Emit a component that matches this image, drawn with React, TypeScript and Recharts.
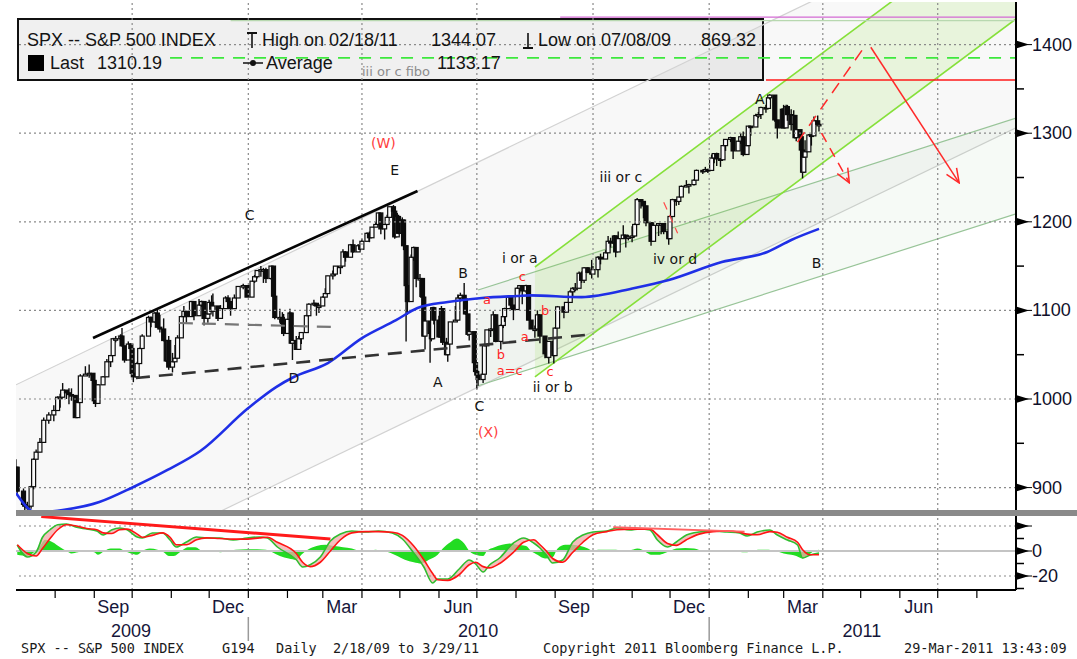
import React from 'react';
import { ComposedChart, Bar, Line, Area, Scatter, XAxis, YAxis, ReferenceLine } from 'recharts';

const SANS = '"Liberation Sans", Arial, sans-serif';
const LABEL_FONT = '"DejaVu Sans", Verdana, sans-serif';
const MONO = '"DejaVu Sans Mono", monospace';

const toDay = (s: string) => Date.UTC(+s.slice(0, 4), +s.slice(5, 7) - 1, +s.slice(8, 10)) / 86400000;
const START = toDay('2009-07-01');
const END = toDay('2011-09-01');

// ---- daily bars (sampled), one row per month ----
const barMonths = [
  '2009-07', '2009-08', '2009-09', '2009-10', '2009-11', '2009-12',
  '2010-01', '2010-02', '2010-03', '2010-04', '2010-05', '2010-06',
  '2010-07', '2010-08', '2010-09', '2010-10', '2010-11', '2010-12',
  '2011-01', '2011-02', '2011-03',
];
const barDays = [
  [1, 2, 7, 8, 10, 13, 15, 17, 20, 23, 27, 31],
  [3, 5, 7, 10, 12, 14, 17, 19, 21, 25, 28, 31],
  [1, 2, 4, 8, 11, 14, 16, 18, 22, 23, 25, 28, 30],
  [1, 2, 5, 7, 9, 14, 16, 19, 21, 23, 26, 28, 29, 30],
  [2, 4, 6, 9, 11, 13, 17, 19, 23, 25, 27, 30],
  [1, 3, 4, 8, 10, 14, 16, 18, 21, 24, 28, 31],
  [4, 6, 8, 11, 13, 15, 19, 21, 22, 26, 28, 29],
  [1, 3, 4, 5, 8, 10, 12, 16, 18, 22, 24, 26],
  [1, 3, 5, 9, 11, 15, 17, 19, 23, 25, 29, 31],
  [1, 5, 7, 9, 12, 14, 16, 19, 21, 23, 26, 27, 29, 30],
  [3, 4, 6, 7, 10, 12, 14, 17, 19, 20, 21, 25, 26, 27, 28],
  [1, 3, 4, 7, 8, 10, 14, 16, 18, 21, 22, 24, 25, 29, 30],
  [1, 2, 6, 7, 9, 12, 14, 16, 20, 22, 23, 26, 28, 30],
  [2, 4, 6, 9, 11, 13, 16, 18, 20, 24, 26, 27, 31],
  [1, 3, 8, 10, 13, 15, 17, 20, 22, 24, 27, 30],
  [1, 5, 7, 11, 13, 15, 18, 19, 21, 25, 27, 29],
  [1, 3, 5, 8, 10, 12, 16, 18, 22, 24, 26, 30],
  [1, 3, 6, 8, 10, 14, 16, 20, 22, 27, 29, 31],
  [3, 5, 7, 10, 12, 14, 18, 20, 24, 26, 28, 31],
  [1, 3, 7, 9, 11, 15, 17, 18, 22, 24, 28],
  [1, 3, 4, 7, 9, 10, 11, 14, 15, 16, 17, 18, 21, 23, 25, 28, 29],
];
const firstOpen = 920;
const closes = [
  [923, 896, 881, 879, 879, 901, 932, 940, 951, 976, 982, 987],
  [1002, 1002, 1010, 1007, 1005, 1004, 979, 996, 1026, 1028, 1029, 1021],
  [998, 995, 1016, 1025, 1042, 1049, 1068, 1068, 1071, 1060, 1044, 1062, 1057],
  [1029, 1025, 1040, 1057, 1071, 1092, 1087, 1097, 1081, 1079, 1066, 1043, 1066, 1036],
  [1042, 1046, 1069, 1093, 1099, 1093, 1110, 1094, 1106, 1110, 1091, 1096],
  [1109, 1099, 1105, 1091, 1102, 1114, 1110, 1102, 1114, 1127, 1128, 1115],
  [1133, 1138, 1145, 1146, 1146, 1136, 1150, 1116, 1092, 1092, 1085, 1074],
  [1090, 1097, 1063, 1066, 1056, 1068, 1075, 1094, 1107, 1108, 1105, 1105],
  [1115, 1119, 1139, 1141, 1150, 1150, 1166, 1160, 1174, 1166, 1173, 1169],
  [1178, 1187, 1182, 1194, 1197, 1210, 1192, 1197, 1205, 1217, 1212, 1183, 1206, 1187],
  [1202, 1173, 1128, 1110, 1160, 1171, 1136, 1136, 1115, 1071, 1088, 1074, 1068, 1103, 1089],
  [1070, 1102, 1064, 1050, 1062, 1087, 1089, 1114, 1117, 1113, 1096, 1073, 1076, 1041, 1031],
  [1027, 1022, 1028, 1060, 1078, 1079, 1095, 1065, 1083, 1093, 1102, 1115, 1106, 1101],
  [1125, 1128, 1122, 1128, 1089, 1079, 1079, 1095, 1071, 1051, 1047, 1065, 1049],
  [1080, 1104, 1098, 1109, 1121, 1125, 1125, 1142, 1134, 1148, 1143, 1141],
  [1146, 1160, 1158, 1165, 1178, 1176, 1184, 1166, 1181, 1185, 1182, 1183],
  [1184, 1197, 1225, 1223, 1218, 1199, 1178, 1196, 1198, 1198, 1189, 1181],
  [1206, 1225, 1223, 1228, 1240, 1241, 1242, 1247, 1258, 1257, 1259, 1258],
  [1272, 1277, 1271, 1270, 1286, 1293, 1295, 1280, 1291, 1296, 1276, 1286],
  [1308, 1307, 1320, 1321, 1329, 1328, 1340, 1343, 1315, 1306, 1327],
  [1306, 1330, 1321, 1310, 1320, 1295, 1304, 1296, 1281, 1256, 1273, 1279, 1298, 1297, 1314, 1310, 1310],
];
const highs = [
  [932, 923, 899, 887, 884, 902, 933, 943, 956, 979, 985, 993],
  [1003, 1006, 1018, 1010, 1012, 1012, 999, 999, 1028, 1037, 1039, 1028],
  [1028, 1000, 1017, 1026, 1045, 1049, 1068, 1071, 1073, 1080, 1052, 1065, 1063],
  [1057, 1030, 1042, 1058, 1073, 1094, 1093, 1098, 1101, 1095, 1091, 1066, 1066, 1071],
  [1052, 1061, 1072, 1094, 1105, 1097, 1110, 1106, 1113, 1111, 1097, 1097],
  [1112, 1117, 1119, 1103, 1106, 1116, 1117, 1103, 1118, 1127, 1130, 1127],
  [1133, 1140, 1145, 1150, 1148, 1148, 1150, 1139, 1115, 1102, 1098, 1096],
  [1090, 1102, 1097, 1067, 1071, 1071, 1075, 1095, 1108, 1112, 1106, 1107],
  [1116, 1125, 1139, 1145, 1150, 1150, 1169, 1167, 1175, 1180, 1175, 1174],
  [1181, 1188, 1189, 1194, 1200, 1210, 1210, 1197, 1208, 1217, 1219, 1212, 1210, 1208],
  [1205, 1197, 1168, 1138, 1163, 1172, 1158, 1141, 1125, 1109, 1090, 1074, 1090, 1104, 1104],
  [1094, 1105, 1099, 1069, 1063, 1087, 1105, 1118, 1120, 1131, 1117, 1089, 1083, 1071, 1044],
  [1033, 1032, 1043, 1060, 1078, 1080, 1099, 1092, 1084, 1097, 1103, 1115, 1114, 1106],
  [1126, 1128, 1123, 1129, 1106, 1086, 1083, 1100, 1075, 1063, 1059, 1065, 1055],
  [1081, 1105, 1103, 1109, 1123, 1126, 1131, 1144, 1144, 1149, 1149, 1157],
  [1150, 1161, 1164, 1168, 1184, 1182, 1185, 1178, 1189, 1196, 1184, 1185],
  [1195, 1198, 1227, 1224, 1218, 1214, 1198, 1199, 1198, 1198, 1198, 1188],
  [1207, 1226, 1225, 1228, 1241, 1247, 1243, 1248, 1259, 1259, 1262, 1260],
  [1276, 1277, 1278, 1272, 1286, 1293, 1296, 1282, 1291, 1300, 1302, 1287],
  [1308, 1307, 1322, 1324, 1330, 1332, 1341, 1344, 1331, 1310, 1328],
  [1332, 1332, 1332, 1327, 1326, 1315, 1308, 1304, 1282, 1281, 1277, 1292, 1299, 1299, 1319, 1320, 1312],
];
const lows = [
  [920, 893, 879, 869, 875, 876, 898, 932, 940, 954, 972, 975],
  [990, 990, 1001, 1000, 994, 998, 979, 980, 1000, 1026, 1024, 1017],
  [996, 991, 996, 1018, 1035, 1036, 1052, 1064, 1066, 1059, 1041, 1045, 1046],
  [1029, 1019, 1025, 1049, 1066, 1081, 1081, 1086, 1080, 1075, 1065, 1042, 1043, 1033],
  [1030, 1045, 1059, 1071, 1093, 1086, 1102, 1089, 1100, 1104, 1083, 1086],
  [1096, 1098, 1093, 1088, 1096, 1106, 1108, 1094, 1105, 1121, 1124, 1115],
  [1116, 1131, 1136, 1138, 1131, 1131, 1135, 1114, 1090, 1086, 1081, 1071],
  [1074, 1093, 1062, 1044, 1056, 1061, 1062, 1075, 1097, 1105, 1094, 1097],
  [1105, 1116, 1123, 1135, 1139, 1141, 1159, 1155, 1161, 1165, 1167, 1168],
  [1170, 1180, 1177, 1186, 1194, 1198, 1186, 1180, 1198, 1206, 1211, 1181, 1188, 1186],
  [1187, 1168, 1065, 1095, 1140, 1156, 1126, 1115, 1107, 1071, 1056, 1041, 1065, 1070, 1084],
  [1069, 1089, 1061, 1050, 1042, 1065, 1089, 1106, 1110, 1107, 1095, 1071, 1066, 1041, 1028],
  [1011, 1015, 1018, 1028, 1071, 1070, 1087, 1064, 1056, 1080, 1087, 1104, 1105, 1089],
  [1107, 1119, 1107, 1120, 1089, 1079, 1069, 1091, 1063, 1046, 1046, 1040, 1040],
  [1050, 1091, 1091, 1101, 1112, 1115, 1122, 1125, 1131, 1131, 1142, 1136],
  [1140, 1137, 1152, 1163, 1171, 1171, 1174, 1160, 1171, 1184, 1171, 1179],
  [1177, 1183, 1220, 1215, 1204, 1195, 1173, 1187, 1184, 1186, 1186, 1174],
  [1187, 1212, 1218, 1219, 1233, 1239, 1232, 1241, 1254, 1254, 1257, 1255],
  [1258, 1266, 1263, 1262, 1275, 1280, 1290, 1271, 1282, 1288, 1274, 1276],
  [1286, 1297, 1311, 1317, 1316, 1323, 1331, 1338, 1313, 1294, 1320],
  [1306, 1307, 1314, 1303, 1310, 1294, 1291, 1285, 1262, 1249, 1257, 1275, 1284, 1286, 1305, 1309, 1302],
];

// ---- moving average (blue) ----
const maDates = [
  '2009-07-01', '2009-07-17', '2009-08-07', '2009-09-05', '2009-10-02', '2009-10-29', '2009-11-24',
  '2010-01-01', '2010-01-23', '2010-02-06', '2010-03-05', '2010-04-01', '2010-04-28', '2010-05-15',
  '2010-06-08', '2010-07-05', '2010-08-02', '2010-08-12', '2010-09-22', '2010-11-03', '2010-11-30',
  '2011-01-11', '2011-02-16', '2011-03-07', '2011-03-29',
];
const maValues = [
  894, 872, 874.7, 883.7, 900.7, 919.9, 941.3,
  989.8, 1013.5, 1024.8, 1040.6, 1068.8, 1089, 1102.7,
  1109.5, 1114, 1116.3, 1117, 1115, 1125.3, 1134.3,
  1154.6, 1166, 1179.5, 1192,
];

// ---- drawn channels: [date, lower, upper] ----
const bigChannel: [string, number, number][] = [['2009-07-01', 762, 1016], ['2011-09-01', 1306, 1560]];
const lowerChannel: [string, number, number][] = [['2010-07-02', 1015, 1123], ['2011-09-01', 1209, 1317]];
const greenChannel: [string, number, number][] = [['2010-08-16', 1025, 1149], ['2011-09-01', 1429, 1553]];

// ---- drawn lines: [date, price] ----
const resistanceLine: [string, number][] = [['2009-08-31', 1068.8], ['2010-05-15', 1234.8]];
const supportLine: [string, number][] = [['2009-10-04', 1023.7], ['2010-09-25', 1072.2]];
const neckLine: [string, number][] = [['2009-11-07', 1085.8], ['2010-03-08', 1081.3]];
const targetPath: [string, number][] = [['2011-03-12', 1290], ['2011-05-05', 1399.5]];
const dropArrow: [string, number][] = [['2011-05-09', 1397], ['2011-07-18', 1244]];
const nearArrow: [string, number][] = [['2011-03-31', 1300], ['2011-04-22', 1244]];
const ivMark: [string, number][] = [['2010-11-26', 1222], ['2010-12-07', 1187]];
const redLevel: [string, number][] = [['2011-02-15', 1360], ['2011-09-01', 1360]];
const fiboLevel: [string, number][] = [['2009-10-31', 1385], ['2011-09-01', 1385]];
const pinkLevel: [string, number][] = [['2010-09-05', 1431], ['2011-09-01', 1431]];
const topLevel: [string, number][] = [['2009-12-18', 1427], ['2011-09-01', 1427]];

// ---- wave labels: [text, date, price, kind] ----
const waveLabels: [string, string, number, string][] = [
  ['(W)', '2010-04-18', 1289, 'degree'],
  ['E', '2010-04-27', 1258, 'wave'],
  ['C', '2010-01-02', 1208, 'wave'],
  ['D', '2010-02-06', 1024, 'wave'],
  ['A', '2010-05-31', 1019, 'wave'],
  ['B', '2010-06-20', 1142, 'wave'],
  ['C', '2010-07-03', 992, 'wave'],
  ['(X)', '2010-07-10', 963, 'degree'],
  ['i or a', '2010-08-04', 1159, 'wave'],
  ['c', '2010-08-06', 1138, 'sub'],
  ['a', '2010-07-09', 1112, 'sub'],
  ['b', '2010-07-20', 1050, 'sub'],
  ['a=c', '2010-07-27', 1032, 'sub'],
  ['b', '2010-08-24', 1100, 'sub'],
  ['a', '2010-08-08', 1070, 'sub'],
  ['c', '2010-08-28', 1031, 'sub'],
  ['ii or b', '2010-08-30', 1013, 'wave'],
  ['iii or c', '2010-10-23', 1251, 'wave'],
  ['iv or d', '2010-12-05', 1158, 'wave'],
  ['A', '2011-02-10', 1339, 'wave'],
  ['B', '2011-03-27', 1154, 'wave'],
  ['iii or c fibo', '2010-04-28', 1370, 'note'],
];

// ---- oscillator ----
const oscDates = [
  '2009-07-02', '2009-07-10', '2009-07-17', '2009-07-22', '2009-07-28', '2009-08-03', '2009-08-10',
  '2009-08-18', '2009-08-26', '2009-09-03', '2009-09-08', '2009-09-15', '2009-09-21', '2009-09-27',
  '2009-10-05', '2009-10-09', '2009-10-17', '2009-10-25', '2009-10-31', '2009-11-05', '2009-11-13',
  '2009-11-21', '2009-11-29', '2009-12-09', '2009-12-20', '2009-12-31', '2010-01-10', '2010-01-16',
  '2010-01-24', '2010-02-08', '2010-02-13', '2010-02-19', '2010-02-27', '2010-03-07', '2010-03-15',
  '2010-03-24', '2010-04-04', '2010-04-14', '2010-04-25', '2010-05-03', '2010-05-12', '2010-05-20',
  '2010-05-27', '2010-05-31', '2010-06-08', '2010-06-17', '2010-06-25', '2010-06-30', '2010-07-06',
  '2010-07-11', '2010-07-19', '2010-07-30', '2010-08-07', '2010-08-15', '2010-08-20', '2010-08-25',
  '2010-08-30', '2010-09-07', '2010-09-15', '2010-09-23', '2010-10-01', '2010-10-12', '2010-10-20',
  '2010-10-30', '2010-11-07', '2010-11-15', '2010-11-21', '2010-11-29', '2010-12-06', '2010-12-14',
  '2010-12-24', '2011-01-04', '2011-01-15', '2011-01-25', '2011-01-31', '2011-02-08', '2011-02-18',
  '2011-02-24', '2011-03-04', '2011-03-12', '2011-03-16', '2011-03-22', '2011-03-29',
];
const oscFast = [
  4.8, -4.8, -0.8, 11, 17, 21, 21.6,
  19, 17.6, 16, 12.8, 17, 18.4, 17,
  11.2, 10.4, 14.4, 14.4, 8.8, 3.2, 7.2,
  11.2, 10.4, 10.4, 8.8, 10.4, 11.2, 10.4,
  3.2, -7, -12.8, -11, -4.8, 8, 13.6,
  16, 15.2, 16, 14.4, 9.6, -1.6, -12.8,
  -25.6, -22.4, -22.4, -14.4, -7.2, -10.4, -16.8,
  -11.2, -5.6, 6.4, 10.4, 6.4, 2.4, -3.2,
  -9.6, -7.2, 7.2, 12.8, 15.2, 16, 18.4,
  16.8, 17.6, 16.8, 8.8, 3.2, 7.2, 12.8,
  15.2, 16, 15.2, 14.4, 12, 15.2, 16.8,
  12.8, 8.8, 4.8, -5.6, -3.2, -1.6,
];
const oscSlow = [
  5, -2, -4, 2, 10, 17, 21,
  20, 18, 17, 14.5, 14, 17, 17.5,
  13.5, 11, 12.5, 14.5, 11, 5, 5,
  9, 10.5, 10, 9.5, 9.5, 10.5, 11,
  7, -2, -9, -12.5, -9, 0, 9,
  14.5, 15.5, 15.5, 15, 12.5, 4, -7,
  -18, -23, -23.5, -19, -11, -9, -12.5,
  -13.5, -10, -1, 7, 9, 5, 0,
  -6, -9, -1, 7, 13, 15.5, 17,
  17.5, 17.5, 17.5, 13, 6, 4.5, 9,
  13.5, 15.5, 16, 15, 13.5, 13, 15.5,
  15, 11, 7, 1, -3, -3,
];
const histDates = [
  '2009-07-02', '2009-07-10', '2009-07-14', '2009-07-20', '2009-07-24', '2009-07-30', '2009-08-05',
  '2009-08-10', '2009-08-14', '2009-08-19', '2009-08-25', '2009-09-01', '2009-09-04', '2009-09-09',
  '2009-09-14', '2009-09-21', '2009-09-25', '2009-09-30', '2009-10-05', '2009-10-09', '2009-10-15',
  '2009-10-21', '2009-10-26', '2009-10-30', '2009-11-03', '2009-11-09', '2009-11-14', '2009-11-20',
  '2009-11-26', '2009-12-03', '2009-12-10', '2009-12-16', '2009-12-22', '2009-12-31', '2010-01-08',
  '2010-01-15', '2010-01-20', '2010-01-26', '2010-02-02', '2010-02-08', '2010-02-12', '2010-02-17',
  '2010-02-24', '2010-03-03', '2010-03-10', '2010-03-17', '2010-03-24', '2010-03-31', '2010-04-05',
  '2010-04-12', '2010-04-16', '2010-04-22', '2010-04-29', '2010-05-05', '2010-05-12', '2010-05-18',
  '2010-05-24', '2010-05-31', '2010-06-04', '2010-06-10', '2010-06-15', '2010-06-21', '2010-06-25',
  '2010-06-30', '2010-07-06', '2010-07-09', '2010-07-15', '2010-07-21', '2010-07-27', '2010-08-02',
  '2010-08-09', '2010-08-13', '2010-08-18', '2010-08-24', '2010-08-30', '2010-09-03', '2010-09-09',
  '2010-09-15', '2010-09-21', '2010-09-27', '2010-10-01', '2010-10-05', '2010-10-12', '2010-10-19',
  '2010-10-26', '2010-11-01', '2010-11-05', '2010-11-09', '2010-11-12', '2010-11-16', '2010-11-22',
  '2010-11-26', '2010-12-01', '2010-12-06', '2010-12-13', '2010-12-20', '2010-12-28', '2011-01-04',
  '2011-01-12', '2011-01-18', '2011-01-24', '2011-01-31', '2011-02-04', '2011-02-10', '2011-02-17',
  '2011-02-23', '2011-03-01', '2011-03-07', '2011-03-11', '2011-03-16', '2011-03-21', '2011-03-25',
  '2011-03-29',
];
const histValues = [
  -3, -4, -2, 4, 9, 7, 3,
  0, -2, -1, 0, -1, -3, 0,
  2, 2, 0, -2, -3, 0, 2,
  1, -1, -4, -4, 0, 3, 3,
  0, 0, -1, 0, 1, 1.5, 1.5,
  1, -1, -4, -6, -7, -3, 1,
  4, 5, 4, 3, 2, 0, 0,
  1, 0, -1, -4, -7, -9, -10,
  -7, -3, 2, 7, 10, 6, 0,
  -3, -4, 0, 3, 5, 6, 5,
  4, 0, -3, -6, -5, 2, 5,
  5, 4, 2, 0, 1, 1, 1,
  0, 1, 2, 1, -1, -3, -3,
  -2, 0, 2, 2.5, 2, 0, 0,
  0.5, 0, -0.5, -1, 0, 1, 1,
  0, -2, -3, -4, -6, -3, 0,
  1,
];
const oscTrend1: [string, number][] = [['2009-07-21', 27.5], ['2010-03-07', 9.6]];
const oscTrend2: [string, number][] = [['2010-10-17', 19], ['2011-01-29', 15.5]];

// ---- axes ----
const priceTicks = [900, 950, 1000, 1050, 1100, 1150, 1200, 1250, 1300, 1350, 1400];
const priceGrid = [900, 1000, 1100, 1200, 1300, 1400];
const oscTicks = [-30, -20, -10, 0, 10, 20];
const oscLabeled = [0, -20];
const quarterLines = ['2009-10-01', '2010-01-01', '2010-04-01', '2010-07-01', '2010-10-01', '2011-01-01', '2011-04-01', '2011-07-01'];
const monthStarts = [
  '2009-08-01', '2009-09-01', '2009-10-01', '2009-11-01', '2009-12-01',
  '2010-01-01', '2010-02-01', '2010-03-01', '2010-04-01', '2010-05-01', '2010-06-01',
  '2010-07-01', '2010-08-01', '2010-09-01', '2010-10-01', '2010-11-01', '2010-12-01',
  '2011-01-01', '2011-02-01', '2011-03-01', '2011-04-01', '2011-05-01', '2011-06-01',
  '2011-07-01', '2011-08-01',
];
const monthLabels: [string, string][] = [
  ['Sep', '2009-09-16'], ['Dec', '2009-12-16'], ['Mar', '2010-03-16'], ['Jun', '2010-06-16'],
  ['Sep', '2010-09-16'], ['Dec', '2010-12-16'], ['Mar', '2011-03-16'], ['Jun', '2011-06-16'],
];
const yearLabels: [string, string][] = [['2009', '2009-09-30'], ['2010', '2010-07-02'], ['2011', '2011-05-02']];

// ---- build tables ----
const candles: { t: number; o: number; h: number; l: number; c: number }[] = [];
let prevClose = firstOpen;
barMonths.forEach((m, i) => {
  barDays[i].forEach((dd, j) => {
    const o = prevClose;
    const c = closes[i][j];
    candles.push({
      t: toDay(`${m}-${String(dd).padStart(2, '0')}`),
      o,
      c,
      h: Math.max(highs[i][j], o, c),
      l: Math.min(lows[i][j], o, c),
    });
    prevClose = c;
  });
});
const maRows = maDates.map((d, i) => ({ t: toDay(d), v: maValues[i] }));
const oscRows = oscDates.map((d, i) => ({ t: toDay(d), fast: oscFast[i], slow: oscSlow[i] }));
const histRows = histDates.map((d, i) => ({ t: toDay(d), v: histValues[i] }));
const seg = (pts: [string, number][]) => pts.map(([d, v]) => ({ t: toDay(d), v }));
const band = (pts: [string, number, number][]) => pts.map(([d, lo, hi]) => ({ t: toDay(d), v: [lo, hi] }));
const labelRows = waveLabels.map(([text, d, p, kind]) => ({ t: toDay(d), p, text, kind }));

const tickInfo = new Map<number, { kind: string; text?: string; jan?: boolean }>();
monthStarts.forEach((d) => tickInfo.set(toDay(d), { kind: 'month', jan: d.slice(5, 7) === '01' }));
monthLabels.forEach(([text, d]) => tickInfo.set(toDay(d), { kind: 'label', text }));
yearLabels.forEach(([text, d]) => tickInfo.set(toDay(d), { kind: 'year', text }));
const xTicks = Array.from(tickInfo.keys()).sort((a, b) => a - b);

const labelStyle: Record<string, { fill: string; size: number }> = {
  wave: { fill: '#141414', size: 14 },
  sub: { fill: '#ff2626', size: 13 },
  degree: { fill: '#ff3c3c', size: 14 },
  note: { fill: '#8c8c8c', size: 13 },
};

// ---- shapes ----
const Candle = (props: any) => {
  const { x, y, width, height, payload } = props;
  if (!payload || height == null) return null;
  const { o, c, h, l } = payload;
  const cx = x + width / 2;
  const k = h > l ? height / (h - l) : 0;
  const yo = y + (h - o) * k;
  const yc = y + (h - c) * k;
  const top = Math.min(yo, yc);
  const bh = Math.max(1.5, Math.abs(yc - yo));
  return (
    <g>
      <line x1={cx} x2={cx} y1={y} y2={y + height} stroke="#0c0c0c" strokeWidth={1.4} />
      <rect x={cx - 2} y={top} width={4} height={bh} fill={c >= o ? '#fafafa' : '#0c0c0c'} stroke="#0c0c0c" strokeWidth={1.2} />
    </g>
  );
};

const LabelMark = (props: any) => {
  const { cx, cy, payload } = props;
  const st = labelStyle[payload.kind];
  return (
    <text x={cx} y={cy} textAnchor="middle" dominantBaseline="central" fill={st.fill} fontSize={st.size} fontFamily={LABEL_FONT}>
      {payload.text}
    </text>
  );
};

const PriceTick = (props: any) => {
  const { x, y, payload } = props;
  const v = payload.value;
  if (v % 100 !== 0) return <line x1={x} x2={x + 8} y1={y} y2={y} stroke="#000" strokeWidth={1.5} />;
  return (
    <g>
      <polygon points={`${x},${y - 4} ${x + 13},${y} ${x},${y + 4}`} fill="#000" />
      <line x1={x} x2={x + 16} y1={y} y2={y} stroke="#000" strokeWidth={1} />
      <text x={x + 16} y={y} dominantBaseline="central" fontSize={18} fontFamily={SANS} fill="#10102a">{v}</text>
    </g>
  );
};

const OscTick = (props: any) => {
  const { x, y, payload } = props;
  const v = payload.value;
  if (v % 20 !== 0) return <line x1={x} x2={x + 8} y1={y} y2={y} stroke="#000" strokeWidth={1.5} />;
  return (
    <g>
      <polygon points={`${x},${y - 4} ${x + 13},${y} ${x},${y + 4}`} fill="#000" />
      <line x1={x} x2={x + 16} y1={y} y2={y} stroke="#000" strokeWidth={1} />
      {oscLabeled.includes(v) && (
        <text x={x + 16} y={y} dominantBaseline="central" fontSize={18} fontFamily={SANS} fill="#10102a">{v}</text>
      )}
    </g>
  );
};

const TimeTick = (props: any) => {
  const { x, y, payload } = props;
  const info = tickInfo.get(payload.value);
  if (!info) return null;
  if (info.kind === 'month') {
    return (
      <g>
        <line x1={x} x2={x} y1={y} y2={y + 8} stroke="#000" strokeWidth={1.2} />
        {info.jan && <line x1={x} x2={x} y1={y + 27} y2={y + 51} stroke="#9a9a9a" strokeWidth={1.5} />}
      </g>
    );
  }
  return (
    <text x={x} y={y + (info.kind === 'label' ? 17 : 41)} textAnchor="middle" dominantBaseline="central" fontSize={18} fontFamily={SANS} fill="#16163a">
      {info.text}
    </text>
  );
};

const gridStroke = { stroke: '#8a8a8a', strokeDasharray: '2 3', strokeWidth: 1.2 };

const text = (s: string, left: number, top: number, extra: React.CSSProperties = {}) => (
  <span style={{ position: 'absolute', left, top, fontSize: 18, lineHeight: '20px', whiteSpace: 'pre', color: '#141414', zIndex: 2, ...extra }}>{s}</span>
);
const footStyle: React.CSSProperties = { fontFamily: MONO, fontSize: 13.5, lineHeight: '16px', color: '#1a1a1a' };

export default function App() {
  return (
    <div style={{ position: 'absolute', left: 0, top: 0, width: 1077, height: 659, background: '#fff', overflow: 'hidden', fontFamily: SANS }}>
      <div style={{ position: 'absolute', left: 17, top: 18, width: 747, height: 63, boxSizing: 'border-box', border: '2px solid #111', background: '#f0f0f0', zIndex: 0 }} />

      <div style={{ position: 'absolute', left: 0, top: 0, zIndex: 1 }}>
        <ComposedChart width={1077} height={512} data={candles} margin={{ top: 2, right: 1, bottom: 2, left: 16 }}>
          <defs>
            <marker id="arrowRed" viewBox="0 0 16 16" refX="15" refY="8" markerWidth="16" markerHeight="16" markerUnits="userSpaceOnUse" orient="auto">
              <path d="M1,2 L15,8 L1,14" fill="none" stroke="#ff2a2a" strokeWidth="1.5" />
            </marker>
          </defs>
          <XAxis dataKey="t" type="number" domain={[START, END]} allowDataOverflow hide />
          <YAxis
            orientation="right"
            type="number"
            domain={[874.7, 1448.1]}
            allowDataOverflow
            ticks={priceTicks}
            interval={0}
            tick={PriceTick}
            tickLine={false}
            tickSize={0}
            tickMargin={0}
            axisLine={{ stroke: '#000', strokeWidth: 2 }}
            width={60}
          />
          <Area data={band(bigChannel)} dataKey="v" type="linear" fill="rgba(0,0,0,0.045)" stroke="#d2d2d2" strokeWidth={1.2} isAnimationActive={false} />
          <Area data={band(lowerChannel)} dataKey="v" type="linear" fill="rgba(60,140,60,0.08)" stroke="#98c498" strokeWidth={1.2} isAnimationActive={false} />
          {priceGrid.map((v) => <ReferenceLine key={`h${v}`} y={v} {...gridStroke} />)}
          {quarterLines.map((d) => <ReferenceLine key={`v${d}`} x={toDay(d)} {...gridStroke} />)}
          <Bar dataKey={(r: any) => [r.l, r.h]} barSize={3} shape={Candle} isAnimationActive={false} />
          <Area data={band(greenChannel)} dataKey="v" type="linear" fill="rgba(125,215,40,0.22)" stroke="#86e03a" strokeWidth={1.6} isAnimationActive={false} />
          <Line data={maRows} dataKey="v" type="monotone" stroke="#1f2fe6" strokeWidth={2.6} dot={false} isAnimationActive={false} />
          <Line data={seg(topLevel)} dataKey="v" stroke="#b8d8b0" strokeWidth={1.2} dot={false} isAnimationActive={false} />
          <Line data={seg(pinkLevel)} dataKey="v" stroke="#d36ad3" strokeWidth={1.4} dot={false} isAnimationActive={false} />
          <Line data={seg(fiboLevel)} dataKey="v" stroke="#3de83d" strokeWidth={1.6} strokeDasharray="12 9" dot={false} isAnimationActive={false} />
          <Line data={seg(redLevel)} dataKey="v" stroke="#ff1a1a" strokeWidth={1.4} dot={false} isAnimationActive={false} />
          <Line data={seg(resistanceLine)} dataKey="v" stroke="#050505" strokeWidth={2.6} dot={false} isAnimationActive={false} />
          <Line data={seg(supportLine)} dataKey="v" stroke="#333" strokeWidth={2.6} strokeDasharray="14 9" dot={false} isAnimationActive={false} />
          <Line data={seg(neckLine)} dataKey="v" stroke="#777" strokeWidth={2.2} strokeDasharray="14 9" dot={false} isAnimationActive={false} />
          <Line data={seg(ivMark)} dataKey="v" stroke="#ff4a4a" strokeWidth={1.2} strokeDasharray="8 6" dot={false} isAnimationActive={false} />
          <Line data={seg(targetPath)} dataKey="v" stroke="#ff2a2a" strokeWidth={1.5} strokeDasharray="12 8" dot={false} isAnimationActive={false} />
          <Line data={seg(nearArrow)} dataKey="v" stroke="#ff2a2a" strokeWidth={1.5} strokeDasharray="10 7" dot={false} markerEnd="url(#arrowRed)" isAnimationActive={false} />
          <Line data={seg(dropArrow)} dataKey="v" stroke="#ff2a2a" strokeWidth={1.5} dot={false} markerEnd="url(#arrowRed)" isAnimationActive={false} />
          <Scatter data={labelRows} dataKey="p" shape={LabelMark} isAnimationActive={false} />
        </ComposedChart>
      </div>

      {/* legend */}
      {text('SPX -- S&P 500 INDEX', 27, 30)}
      {text('High on 02/18/11', 262, 30)}
      {text('1344.07', 431, 30)}
      {text('Low on 07/08/09', 538, 30)}
      {text('869.32', 701, 30)}
      {text('Last', 50, 53)}
      {text('1310.19', 97, 53)}
      {text('Average', 266, 53)}
      {text('1133.17', 437, 53)}
      <svg width={1077} height={90} style={{ position: 'absolute', left: 0, top: 0, zIndex: 2 }}>
        <line x1={247} x2={257} y1={33} y2={33} stroke="#111" strokeWidth={2} />
        <line x1={252} x2={252} y1={33} y2={48} stroke="#111" strokeWidth={1.6} />
        <line x1={523} x2={533} y1={48} y2={48} stroke="#111" strokeWidth={2} />
        <line x1={528} x2={528} y1={33} y2={48} stroke="#111" strokeWidth={1.6} />
        <rect x={28} y={55} width={16} height={16} fill="#000" />
        <line x1={243} x2={263} y1={63} y2={63} stroke="#111" strokeWidth={1.5} />
        <circle cx={253} cy={63} r={3} fill="#111" />
      </svg>

      <div style={{ position: 'absolute', left: 16, top: 510, width: 1061, height: 6, background: '#8a8a8a', zIndex: 3 }} />

      <div style={{ position: 'absolute', left: 0, top: 516, zIndex: 1 }}>
        <ComposedChart width={1077} height={143} margin={{ top: 0, right: 1, bottom: 0, left: 16 }}>
          <XAxis
            dataKey="t"
            type="number"
            domain={[START, END]}
            allowDataOverflow
            ticks={xTicks}
            interval={0}
            tick={TimeTick}
            tickLine={false}
            tickSize={0}
            tickMargin={0}
            axisLine={{ stroke: '#000', strokeWidth: 2 }}
            height={69}
          />
          <YAxis
            orientation="right"
            type="number"
            domain={[-31.2, 28]}
            allowDataOverflow
            ticks={oscTicks}
            interval={0}
            tick={OscTick}
            tickLine={false}
            tickSize={0}
            tickMargin={0}
            axisLine={{ stroke: '#000', strokeWidth: 2 }}
            width={60}
          />
          <ReferenceLine y={20} {...gridStroke} />
          <ReferenceLine y={-20} {...gridStroke} />
          <ReferenceLine y={0} stroke="#c4c4c4" strokeWidth={2} />
          {quarterLines.map((d) => <ReferenceLine key={`o${d}`} x={toDay(d)} {...gridStroke} />)}
          <Area data={histRows} dataKey="v" type="monotone" baseValue={0} fill="#22dc22" stroke="none" fillOpacity={1} isAnimationActive={false} />
          <Area data={oscRows} dataKey={(r: any) => [r.slow, r.fast]} type="monotone" fill="#f2a8a8" fillOpacity={0.75} stroke="none" isAnimationActive={false} />
          <Line data={oscRows} dataKey="fast" type="monotone" stroke="#2fbe2f" strokeWidth={1.6} dot={false} isAnimationActive={false} />
          <Line data={oscRows} dataKey="slow" type="monotone" stroke="#ff1414" strokeWidth={1.6} dot={false} isAnimationActive={false} />
          <Line data={seg(oscTrend1)} dataKey="v" stroke="#ff1a1a" strokeWidth={3} dot={false} isAnimationActive={false} />
          <Line data={seg(oscTrend2)} dataKey="v" stroke="#ff6060" strokeWidth={2} dot={false} isAnimationActive={false} />
        </ComposedChart>
      </div>

      {/* footer */}
      {text('SPX -- S&P 500 INDEX', 21, 640, footStyle)}
      {text('G194', 222, 640, footStyle)}
      {text('Daily  2/18/09 to 3/29/11', 276, 640, footStyle)}
      {text('Copyright 2011 Bloomberg Finance L.P.', 543, 640, footStyle)}
      {text('29-Mar-2011 13:43:09', 904, 640, footStyle)}
    </div>
  );
}
